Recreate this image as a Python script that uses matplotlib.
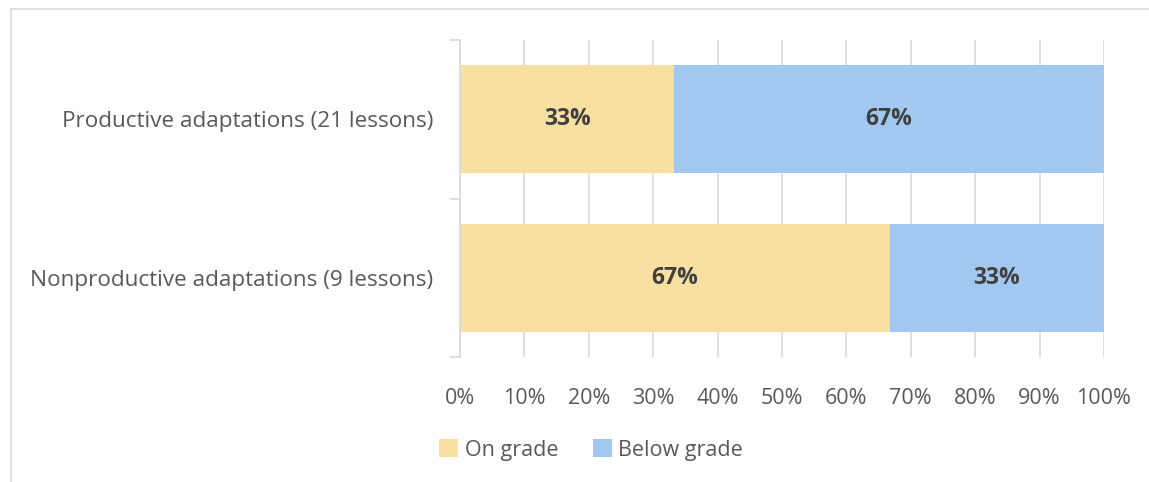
import matplotlib.pyplot as plt
from matplotlib.patches import Patch
from matplotlib.lines import Line2D

plt.rcParams['font.family'] = ['Open Sans', 'DejaVu Sans']

categories = ["Nonproductive adaptations (9 lessons)", "Productive adaptations (21 lessons)"]
on_grade = [66.7, 33.3]
below_grade = [33.3, 66.7]
series_names = ["On grade", "Below grade"]
colors = ["#F8E0A3", "#A3C8F0"]
xticks = list(range(0, 101, 10))

fig = plt.figure(figsize=(11.49, 4.82), dpi=100)
ax = fig.add_axes([0.4003, 0.2593, 0.5605, 0.6577])

y = range(len(categories))
ax.barh(y, on_grade, height=0.68, color=colors[0], zorder=2)
ax.barh(y, below_grade, left=on_grade, height=0.68, color=colors[1], zorder=2)

for i in y:
    ax.text(on_grade[i] / 2, i, f"{on_grade[i]:.0f}%", ha="center", va="center",
            fontsize=16.5, fontweight="bold", color="#404040", zorder=3)
    ax.text(on_grade[i] + below_grade[i] / 2, i, f"{below_grade[i]:.0f}%", ha="center",
            va="center", fontsize=16.5, fontweight="bold", color="#404040", zorder=3)

ax.set_xlim(0, 100)
ax.set_ylim(-0.5, 1.5)
ax.set_xticks(xticks)
ax.set_xticklabels([f"{t}%" for t in xticks])
ax.set_yticks([-0.5, 0.5, 1.5], minor=False)
ax.set_yticklabels([])
ax.set_yticks(list(y), minor=True)
ax.set_yticklabels(categories, minor=True)
ax.tick_params(axis="y", which="major", length=7, color="#D9D9D9", width=1.2)
ax.tick_params(axis="y", which="minor", length=0, labelsize=16.2, labelcolor="#595959", pad=19)
ax.tick_params(axis="x", length=0, labelsize=15.5, labelcolor="#595959", pad=22)

ax.grid(axis="x", color="#D9D9D9", linewidth=1.2, zorder=0)
for side in ["top", "right", "bottom"]:
    ax.spines[side].set_visible(False)
ax.spines["left"].set_color("#D9D9D9")
ax.spines["left"].set_linewidth(1.2)

handles = [Patch(facecolor=c, label=n) for c, n in zip(colors, series_names)]
fig.legend(handles=handles, loc="center", bbox_to_anchor=(591 / 1149, 1 - 450 / 482),
           ncol=2, frameon=False, fontsize=15.5, labelcolor="#595959",
           handlelength=0.9, handleheight=0.9, handletextpad=0.3, columnspacing=1.6)

# chart area border (left and top edges visible)
fig.add_artist(Line2D([11 / 1149, 11 / 1149], [0, 1 - 9 / 482], color="#D9D9D9", lw=1.2))
fig.add_artist(Line2D([11 / 1149, 1], [1 - 9 / 482, 1 - 9 / 482], color="#D9D9D9", lw=1.2))

fig.savefig("out.png", dpi=100)
